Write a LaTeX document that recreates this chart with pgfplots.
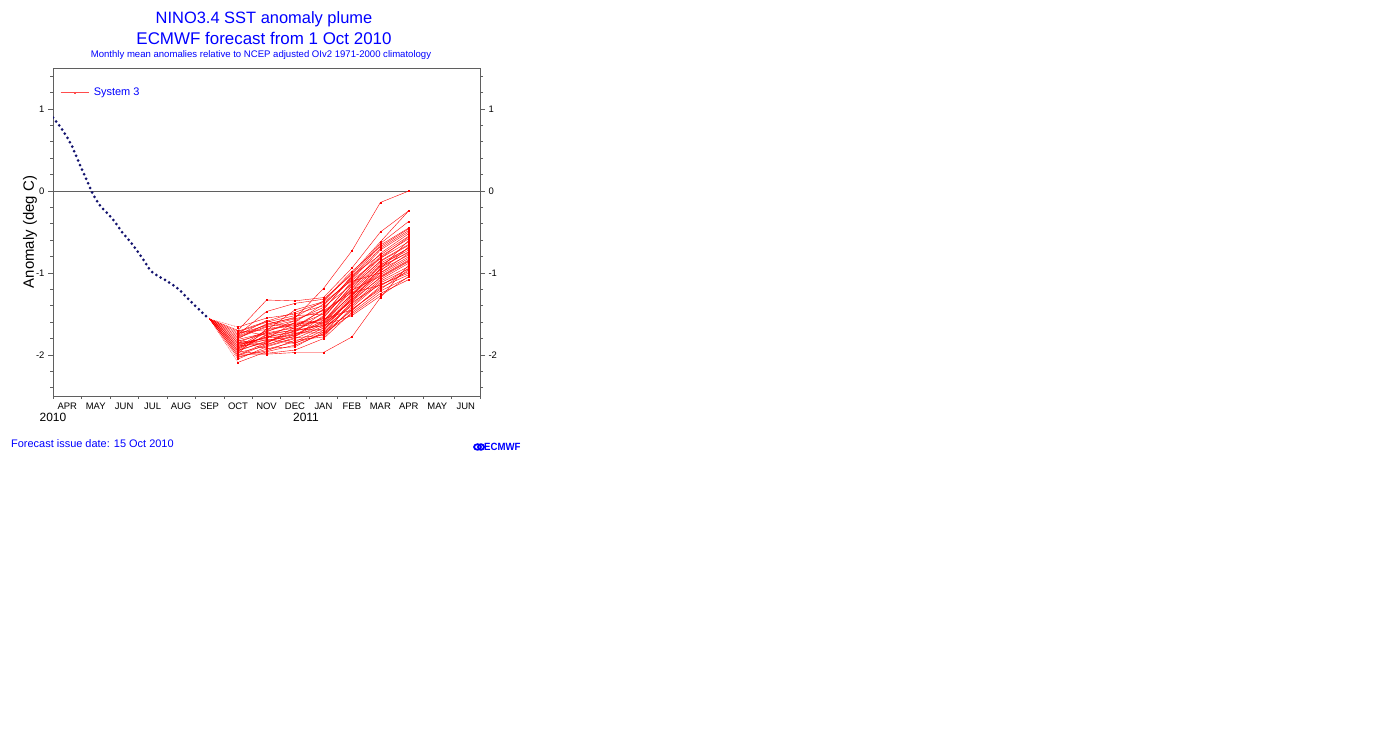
\documentclass[border=0pt]{standalone}
\usepackage{pgfplots}
\pgfplotsset{compat=1.18}
\usepackage{pgfplotstable}
\usepackage{fontspec}
\setmainfont{Liberation Sans}

\definecolor{obsnavy}{RGB}{18,18,110}
\definecolor{framegray}{RGB}{95,95,95}

% observed anomaly, x in months from 1 Apr 2010
\pgfplotstableread{
x y
0.000 0.896
0.246 0.787
0.492 0.659
0.667 0.549
0.948 0.317
1.229 0.098
1.405 -0.043
1.510 -0.104
1.686 -0.195
1.956 -0.289
2.178 -0.378
2.424 -0.500
2.740 -0.630
3.080 -0.789
3.372 -0.943
3.488 -0.991
3.642 -1.028
3.793 -1.057
3.944 -1.085
4.110 -1.122
4.426 -1.199
4.672 -1.289
4.953 -1.387
5.223 -1.476
5.479 -1.561
}\obs

% System 3 ensemble, one column per member (mid-Sep start, then Oct..Apr)
\pgfplotstableread{
x m1 m2 m3 m4 m5 m6 m7 m8 m9 m10 m11 m12 m13 m14 m15 m16 m17 m18 m19 m20 m21 m22 m23 m24 m25 m26 m27 m28 m29 m30 m31 m32 m33 m34 m35 m36 m37 m38 m39 m40 m41
5.5 -1.56 -1.56 -1.56 -1.56 -1.56 -1.56 -1.56 -1.56 -1.56 -1.56 -1.56 -1.56 -1.56 -1.56 -1.56 -1.56 -1.56 -1.56 -1.56 -1.56 -1.56 -1.56 -1.56 -1.56 -1.56 -1.56 -1.56 -1.56 -1.56 -1.56 -1.56 -1.56 -1.56 -1.56 -1.56 -1.56 -1.56 -1.56 -1.56 -1.56 -1.56
6.5 -1.80 -1.70 -1.75 -1.90 -1.66 -1.85 -1.95 -1.72 -2.00 -1.78 -1.88 -1.82 -1.92 -2.05 -1.76 -1.86 -1.98 -1.70 -1.84 -1.94 -2.02 -1.74 -1.89 -1.96 -2.09 -1.83 -1.99 -1.79 -1.87 -1.93 -2.01 -1.73 -1.91 -1.81 -1.97 -1.77 -2.03 -1.85 -1.95 -1.71 -1.90
7.5 -1.62 -1.33 -1.47 -1.70 -1.55 -1.80 -1.75 -1.60 -1.85 -1.65 -1.78 -1.88 -1.72 -1.90 -1.58 -1.82 -1.68 -1.76 -1.92 -1.84 -1.95 -1.64 -1.86 -1.98 -1.96 -1.74 -1.99 -1.66 -1.79 -1.76 -1.87 -1.69 -1.81 -1.73 -1.89 -1.63 -1.93 -1.71 -1.83 -1.59 -1.78
8.5 -1.55 -1.34 -1.37 -1.45 -1.50 -1.60 -1.65 -1.52 -1.70 -1.62 -1.72 -1.75 -1.58 -1.80 -1.68 -1.78 -1.63 -1.85 -1.90 -1.74 -1.82 -1.56 -1.66 -1.94 -1.88 -1.70 -1.97 -1.58 -1.76 -1.69 -1.77 -1.64 -1.86 -1.67 -1.79 -1.54 -1.84 -1.61 -1.73 -1.48 -1.71
9.5 -1.19 -1.30 -1.32 -1.35 -1.40 -1.38 -1.45 -1.50 -1.55 -1.60 -1.48 -1.58 -1.62 -1.65 -1.70 -1.52 -1.66 -1.75 -1.72 -1.68 -1.78 -1.46 -1.56 -1.80 -1.74 -1.64 -1.97 -1.42 -1.60 -1.54 -1.63 -1.50 -1.70 -1.44 -1.76 -1.34 -1.67 -1.58 -1.73 -1.36 -1.62
10.5 -0.73 -0.94 -1.02 -1.00 -1.05 -1.08 -1.03 -1.12 -1.15 -1.18 -1.20 -1.22 -1.25 -1.28 -1.30 -1.10 -1.32 -1.35 -1.38 -1.40 -1.42 -1.24 -1.45 -1.48 -1.50 -1.52 -1.78 -1.14 -1.26 -1.16 -1.34 -1.21 -1.36 -1.06 -1.44 -0.98 -1.30 -1.27 -1.46 -1.09 -1.33
11.5 -0.14 -0.50 -0.64 -0.62 -0.66 -0.72 -0.78 -0.80 -0.82 -0.85 -0.88 -0.90 -0.92 -0.95 -0.98 -1.00 -1.02 -1.05 -1.08 -1.10 -1.12 -1.15 -1.18 -1.22 -1.25 -1.28 -1.30 -0.76 -0.96 -0.86 -0.94 -1.04 -1.14 -0.70 -1.20 -0.68 -1.00 -0.91 -1.16 -0.82 -1.06
12.5 0.00 -0.24 -0.37 -0.24 -0.45 -0.50 -0.55 -0.58 -0.62 -0.65 -0.70 -0.72 -0.75 -0.60 -0.68 -0.80 -0.82 -0.85 -0.88 -0.92 -0.95 -0.98 -1.02 -1.05 -1.08 -1.04 -0.90 -0.52 -0.78 -0.66 -0.74 -0.84 -1.00 -0.48 -0.96 -0.46 -0.76 -0.69 -0.94 -0.56 -0.86
}\plume

\pgfplotsset{
  plumeaxis/.style={
    at={(53bp,342bp)}, anchor=south west,
    scale only axis, width=427bp, height=328bp,
    xmin=0, xmax=15, ymin=-2.5, ymax=1.5,
    axis line style={framegray, line width=0.7bp},
    tick align=outside,
    major tick length=5bp, minor tick length=3bp,
    every tick/.style={framegray, line width=0.6bp},
    ytick={-2,-1,0,1}, yticklabels={-2,-1,0,1},
    minor ytick={-2.4,-2.2,-1.8,-1.6,-1.4,-1.2,-0.8,-0.6,-0.4,-0.2,0.2,0.4,0.6,0.8,1.2,1.4},
    yticklabel style={font=\fontsize{9.5}{11}\selectfont},
  },
}

\begin{document}
\begin{tikzpicture}[x=1bp,y=1bp]
\useasboundingbox (0,0) rectangle (1373,738);

\begin{axis}[plumeaxis,
    ytick pos=left,
    xtick pos=lower,
    xtick={0.5,1.5,...,14.5},
    xticklabels={APR,MAY,JUN,JUL,AUG,SEP,OCT,NOV,DEC,JAN,FEB,MAR,APR,MAY,JUN},
    major x tick style={draw=none},
    minor xtick={0,1,...,15},
    xticklabel style={font=\fontsize{9.5}{11}\selectfont, yshift=1.5bp},
    ylabel={Anomaly (deg C)},
    ylabel style={at={(axis description cs:-0.054,0.5)}, anchor=center,
      font=\fontsize{15}{17}\selectfont},
    legend style={draw=none, fill=none, at={(0,1)}, anchor=north west,
      xshift=5bp, yshift=-16bp, font=\fontsize{11}{13}\selectfont, text=blue,
      inner sep=2bp, nodes={inner xsep=5bp}},
    legend cell align=left,
    legend image code/.code={
      \draw[mark repeat=2, mark phase=2, #1] plot coordinates {(0bp,0bp) (14bp,0bp) (28bp,0bp)};},
  ]
  \addplot[framegray, line width=0.7bp, forget plot] coordinates {(0,0) (15,0)};
  \addplot[obsnavy, line width=3bp, line cap=round,
    dash pattern=on 0bp off 5bp, forget plot] table[x=x, y=y] {\obs};
  % dotted fan from the last observation to the October values
  \pgfplotsinvokeforeach{1,...,41}{
    \addplot[red, line width=0.35bp, dash pattern=on 0.8bp off 0.8bp, forget plot,
      skip coords between index={2}{8}] table[x=x, y=m#1] {\plume};
  }
  \pgfplotsinvokeforeach{1,...,41}{
    \addplot[red, line width=0.4bp, mark=square*, mark size=0.6bp, forget plot,
      skip coords between index={0}{1}] table[x=x, y=m#1] {\plume};
  }
  \addlegendimage{red!70, line width=0.6bp, mark=square*, mark size=0.6bp}
  \addlegendentry{System 3}
\end{axis}

\begin{axis}[plumeaxis,
    hide x axis,
    axis y line*=right,
    yticklabel pos=right,
  ]
  \addplot[draw=none, forget plot] coordinates {(0,0) (15,0)};
\end{axis}

% year labels
\node[font=\fontsize{12}{14}\selectfont] at (53,321) {2010};
\node[font=\fontsize{12}{14}\selectfont] at (306,321) {2011};

% titles
\node[text=blue, font=\fontsize{16.5}{19}\selectfont] at (264,719) {NINO3.4 SST anomaly plume};
\node[text=blue, font=\fontsize{17}{19}\selectfont] at (264,700) {ECMWF forecast from 1 Oct 2010};
\node[text=blue, font=\fontsize{9.6}{11}\selectfont] at (261,683)
  {Monthly mean anomalies relative to NCEP adjusted OIv2 1971-2000 climatology};

% footer
\node[text=blue, anchor=west, font=\fontsize{11}{13}\selectfont, inner sep=0pt] at (11,294)
  {Forecast issue date: 15 Oct 2010};
\draw[blue, line width=1.8bp] (477.5,291) ellipse (3.4bp and 2.8bp);
\draw[blue, line width=1.8bp] (481,291) ellipse (3.0bp and 2.8bp);
\node[text=blue, anchor=west, font=\bfseries\fontsize{10.5}{12}\selectfont, inner sep=0pt,
  xscale=0.92] at (484,291) {ECMWF};
\end{tikzpicture}
\end{document}
